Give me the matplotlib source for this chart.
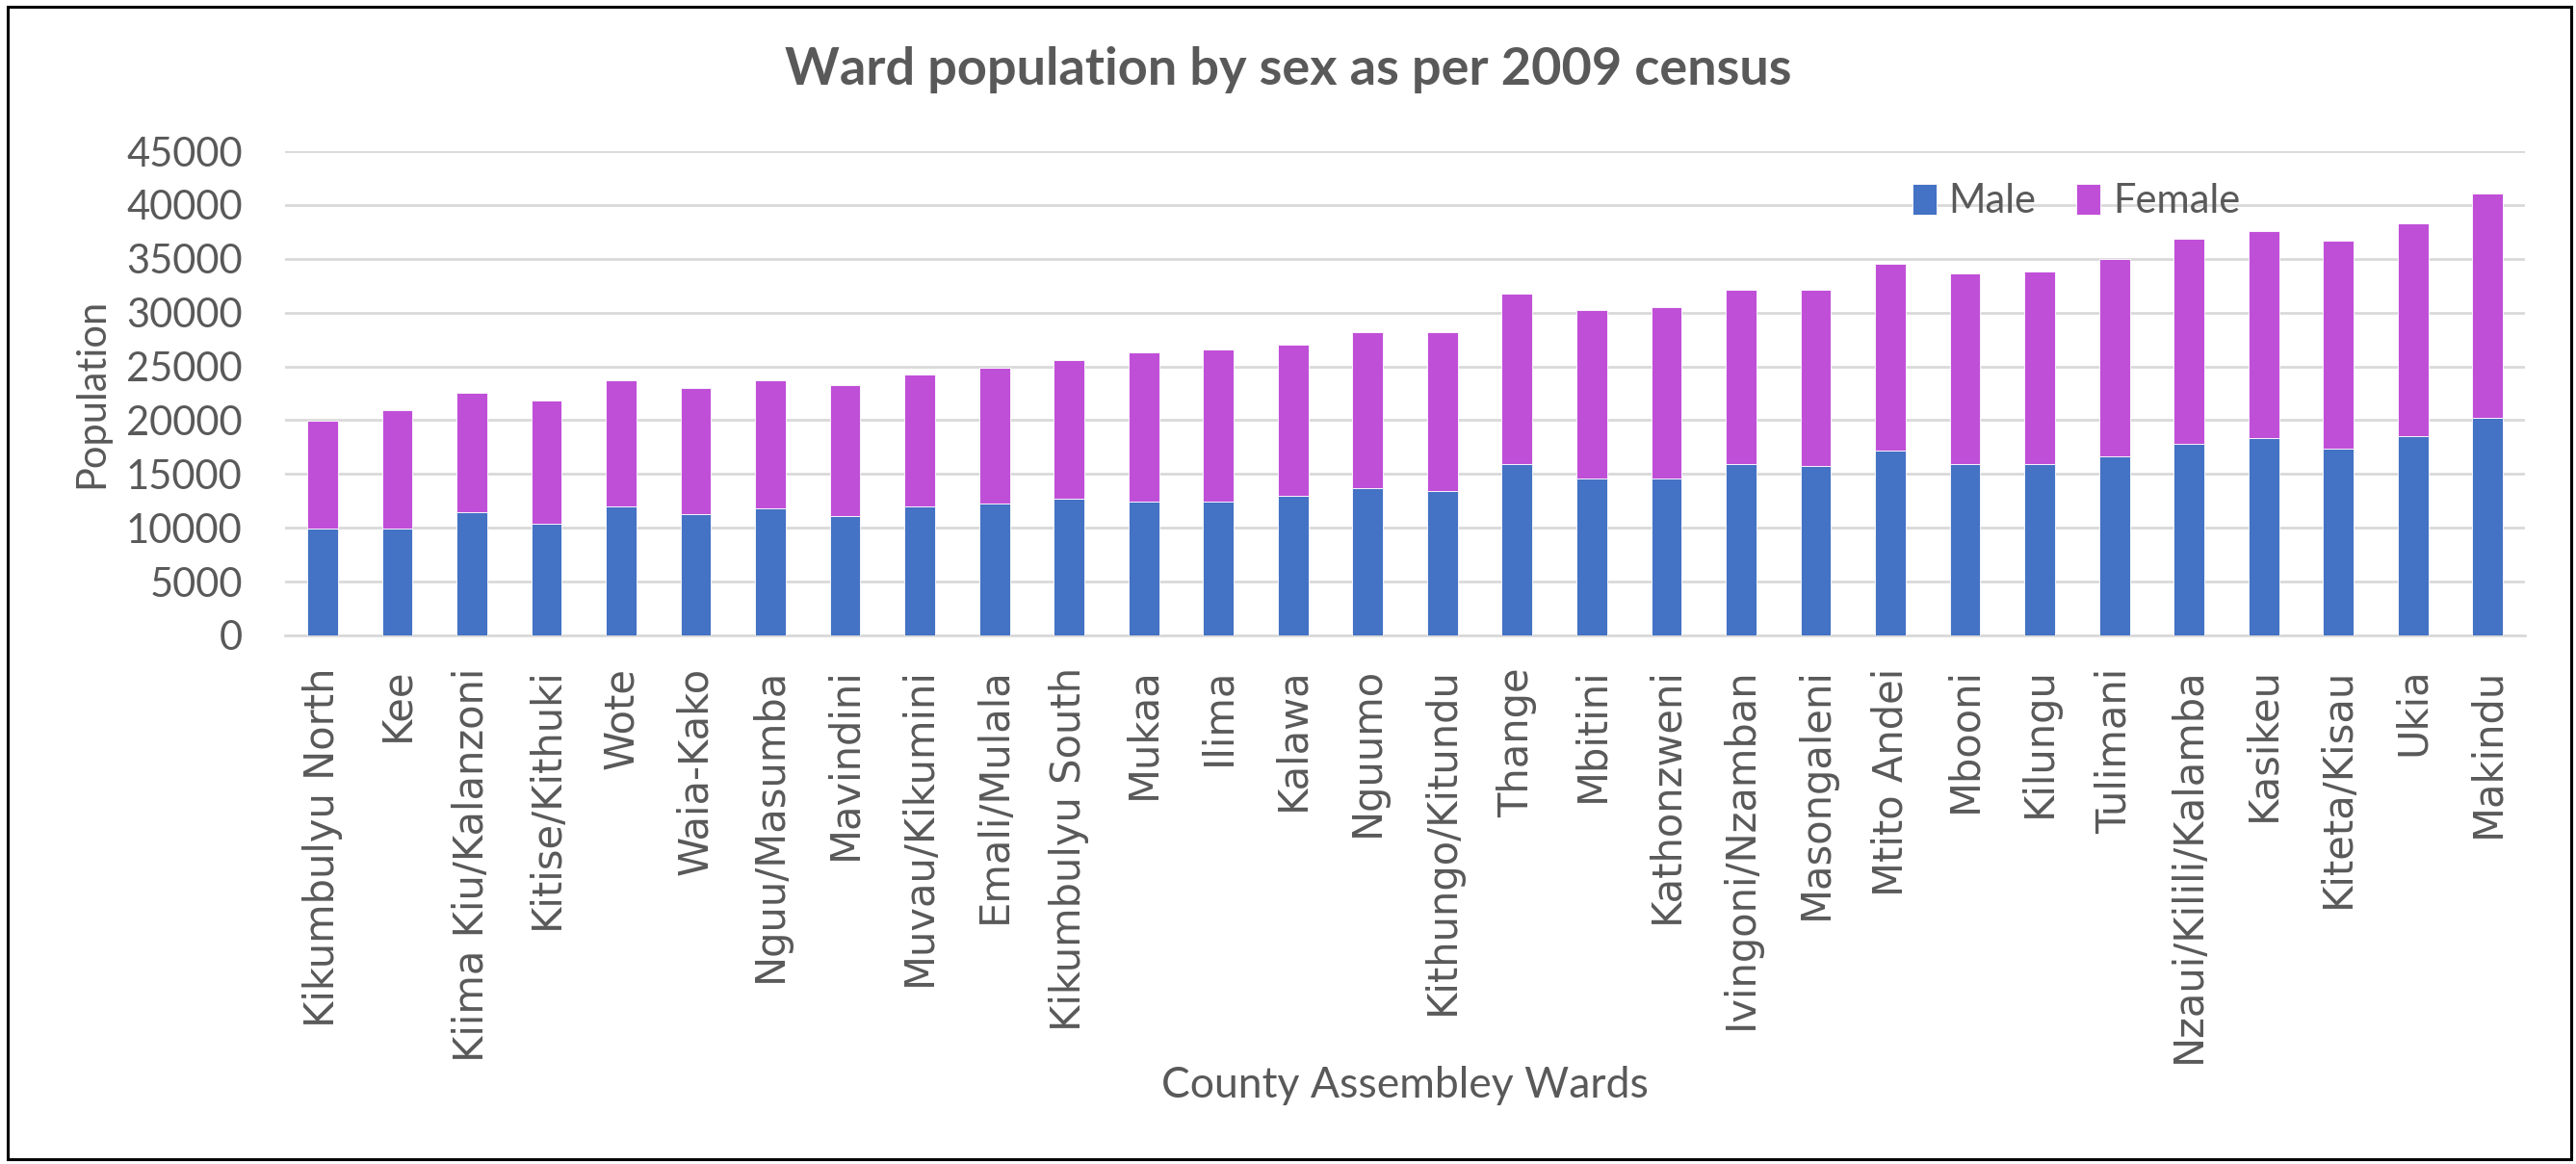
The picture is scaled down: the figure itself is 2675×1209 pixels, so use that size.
import matplotlib
matplotlib.use('Agg')
import matplotlib.pyplot as plt
from matplotlib.patches import Rectangle
import numpy as np

wards = ['Kikumbulyu North', 'Kee', 'Kiima Kiu/Kalanzoni', 'Kitise/Kithuki', 'Wote',
         'Waia-Kako', 'Nguu/Masumba', 'Mavindini', 'Muvau/Kikumini', 'Emali/Mulala',
         'Kikumbulyu South', 'Mukaa', 'Ilima', 'Kalawa', 'Nguumo',
         'Kithungo/Kitundu', 'Thange', 'Mbitini', 'Kathonzweni', 'Ivingoni/Nzamban',
         'Masongaleni', 'Mtito Andei', 'Mbooni', 'Kilungu', 'Tulimani',
         'Nzaui/Kilili/Kalamba', 'Kasikeu', 'Kiteta/Kisau', 'Ukia', 'Makindu']
male = [9900, 9900, 11470, 10350, 11980, 11310, 11790, 11050, 12010, 12230,
        12740, 12460, 12460, 12940, 13670, 13380, 15970, 14600, 14600, 15940,
        15750, 17150, 15940, 15940, 16670, 17820, 18330, 17380, 18560, 20190]
female = [10050, 11000, 11110, 11500, 11750, 11720, 11940, 12200, 12200, 12650,
          12880, 13860, 14110, 14110, 14530, 14820, 15750, 15680, 15940, 16220,
          16410, 17380, 17660, 17880, 18340, 19070, 19230, 19260, 19700, 20890]

txt = '#595959'
gill = 'Lato'

fig = plt.figure(figsize=(26.75, 12.09), dpi=100)
ax = fig.add_axes([0.1107, 0.4541, 0.8695, 0.4160])

x = np.arange(len(wards))
ax.bar(x, male, width=0.41, color='#4472C4', edgecolor='white', linewidth=0.6, label='Male', zorder=3)
ax.bar(x, female, width=0.41, bottom=male, color='#C04FD8', edgecolor='white', linewidth=0.6,
       label='Female', zorder=3)

ax.set_xlim(-0.5, len(wards) - 0.5)
ax.set_ylim(0, 45000)
ax.set_yticks(np.arange(0, 45001, 5000))
ax.set_yticklabels([str(v) for v in range(0, 45001, 5000)], fontsize=30, color=txt, family=gill)
ax.set_xticks(x)
ax.set_xticklabels(wards, rotation=90, fontsize=30, color=txt, family='DejaVu Sans')
ax.tick_params(axis='y', length=0, pad=32)
ax.tick_params(axis='x', length=0, pad=24)

ax.yaxis.grid(True, color='#D9D9D9', linewidth=2)
ax.set_axisbelow(True)
for s in ['top', 'right', 'left']:
    ax.spines[s].set_visible(False)
ax.spines['bottom'].set_color('#D9D9D9')
ax.spines['bottom'].set_linewidth(2)

ax.set_ylabel('Population', fontsize=30, color=txt, family=gill, labelpad=12)
fig.text(0.5454, 0.067, 'County Assembley Wards', fontsize=32, color=txt, family=gill,
         ha='center', va='center')
fig.text(0.5, 0.94, 'Ward population by sex as per 2009 census', fontsize=39, color=txt,
         family=gill, fontweight='bold', ha='center', va='center')

fig.legend(loc='center', bbox_to_anchor=(0.806, 0.827), ncol=2, frameon=False,
           handlelength=0.6, handleheight=0.8, handletextpad=0.3,
           columnspacing=1.0, labelcolor=txt, prop={'family': gill, 'size': 30})

fig.patches.append(Rectangle((0.003, 0.004), 0.995, 0.99, transform=fig.transFigure,
                             fill=False, edgecolor='black', linewidth=2.2))

fig.savefig('out.png', dpi=100)
print('Saved.')
